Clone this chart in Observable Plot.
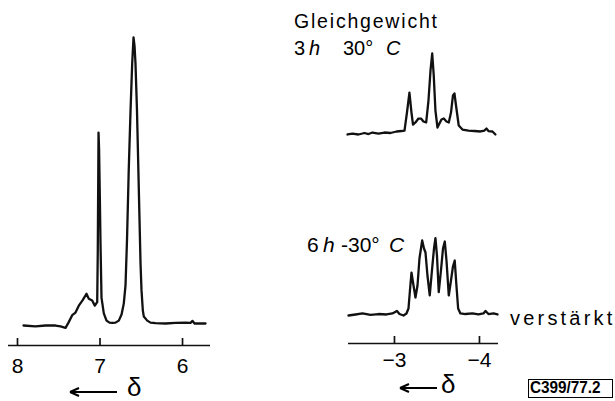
<!DOCTYPE html>
<html><head><meta charset="utf-8">
<script src="https://cdn.jsdelivr.net/npm/d3@7"></script>
<script src="https://cdn.jsdelivr.net/npm/@observablehq/plot@0.6"></script>
<style>
body{margin:0;background:#fff;}
#wrap{position:relative;width:615px;height:401px;overflow:hidden;font-family:"Liberation Sans",Arial,sans-serif;color:#000;background:#fff;}
.p{position:absolute;}
.lbl{position:absolute;white-space:pre;line-height:1;}
</style></head><body>
<div id="wrap"></div>
<script>
// ---- data (chemical shift δ in ppm, relative intensity) ----
const leftPpm = [7.927,7.782,7.661,7.539,7.479,7.418,7.382,7.337,7.297,7.257,7.212,7.164,7.136,7.095,7.063,7.034,7.027,7.018,7.011,7.002,6.994,6.982,6.954,6.921,6.885,6.848,6.812,6.772,6.739,6.712,6.691,6.673,6.652,6.630,6.610,6.594,6.582,6.570,6.552,6.537,6.521,6.509,6.497,6.481,6.469,6.428,6.388,6.327,6.206,6.085,5.964,5.903,5.879,5.855,5.782,5.721];
const leftInt = [0,-0.3,0,0,-0.3,-0.8,1.0,3.6,4.5,6.9,8.7,11.0,9.3,8.7,6.9,8.1,26,67.0,60.8,44.4,28.5,9.7,4.2,1.7,1.0,0.9,1.0,1.7,3.8,7.6,13.9,29.5,53.8,74.7,91.0,100,97.2,91.0,74.7,56.3,36.5,21.5,12.2,5.2,3.1,1.7,1.0,0.8,0.7,0.9,1.0,0.9,1.6,0.7,0.7,0.7];

const eqPpm = [-2.447,-2.506,-2.576,-2.647,-2.694,-2.741,-2.812,-2.882,-2.953,-3.024,-3.082,-3.118,-3.147,-3.176,-3.200,-3.218,-3.247,-3.282,-3.312,-3.341,-3.373,-3.400,-3.424,-3.444,-3.462,-3.482,-3.506,-3.529,-3.553,-3.580,-3.612,-3.639,-3.665,-3.688,-3.706,-3.724,-3.756,-3.800,-3.871,-3.941,-4.012,-4.059,-4.082,-4.106,-4.153,-4.188];
const eqInt = [-2.5,-1.3,-2.5,-0.6,-1.9,0,-1.3,0,-0.6,1.3,1.9,2.5,25.3,50.6,25.3,10.1,12.7,17.7,17.7,13.9,12.7,40.5,78.5,100,72.2,27.8,6.3,11.4,16.5,17.7,13.9,12.7,25.3,46.8,49.4,34.2,8.9,3.8,2.5,1.9,1.3,2.5,5.1,1.9,1.3,-2.5];

const lowPpm = [-2.459,-2.541,-2.624,-2.718,-2.812,-2.906,-2.976,-3.029,-3.059,-3.106,-3.141,-3.165,-3.182,-3.200,-3.224,-3.247,-3.271,-3.294,-3.326,-3.347,-3.365,-3.388,-3.415,-3.441,-3.465,-3.482,-3.500,-3.521,-3.547,-3.571,-3.592,-3.612,-3.639,-3.665,-3.688,-3.709,-3.729,-3.749,-3.776,-3.835,-3.918,-3.988,-4.047,-4.071,-4.106,-4.165,-4.212];
const lowInt = [-1.3,0,1.3,-0.6,0.6,0,1.3,4.5,0.6,-1.3,1.3,7.7,30.8,53.8,37.2,21.8,37.2,71.8,94.9,84.6,79.5,50,24.4,56.4,84.6,97.8,75.6,28.6,56.4,84.6,93.6,69.2,24.4,43.6,61.5,69.2,37.2,7.7,1.3,0.6,1.3,0,1.3,4.5,0.6,1.3,0];

const leftTicks = [8, 7, 6];
const rightTicks = [-3, -4];
const titleText = "Gleichgewicht";
const eqCond = ["3", "h", "30°", "C"];
const lowCond = ["6", "h", "-30°", "C"];
const gainText = "verstärkt";
const codeText = "C399/77.2";
const deltaText = "δ";

// ---- drawing ----
const wrap = document.getElementById("wrap");
function rows(ppm, inten) { return ppm.map((p, i) => ({ppm: p, i: inten[i]})); }

function spectrum(o) {
  const marks = [
    Plot.line(rows(o.ppm, o.inten), {x: "ppm", y: "i", stroke: "#111", strokeWidth: 2.3, strokeLinejoin: "round"})
  ];
  if (o.ticks) {
    const fh = o.height - o.mT - o.mB;
    marks.push(Plot.ruleY([o.yDomain[0]], {stroke: "#111", strokeWidth: 1.7}));
    marks.push(Plot.ruleX(o.ticks, {stroke: "#111", strokeWidth: 1.7, insetTop: fh - 7}));
    marks.push(Plot.axisX(o.ticks, {tickSize: 0, tickPadding: o.pad, fontSize: 21, label: null, tickFormat: d => String(d).replace("-", "\u2212")}));
  }
  const svg = Plot.plot({
    width: o.width, height: o.height,
    marginLeft: o.mL, marginRight: o.mR, marginTop: o.mT, marginBottom: o.mB,
    x: {domain: o.xDomain, axis: null, label: null},
    y: {domain: o.yDomain, axis: null, label: null},
    style: {background: "transparent", fontFamily: "Liberation Sans, Arial, sans-serif", color: "#000", overflow: "visible"},
    marks
  });
  svg.classList.add("p");
  svg.style.left = o.left + "px";
  svg.style.top = o.top + "px";
  wrap.appendChild(svg);
}

spectrum({ppm: leftPpm, inten: leftInt, left: 0, top: 0, width: 240, height: 401,
  mL: 8, mR: 30, mT: 37, mB: 56, xDomain: [8.109, 5.661], yDomain: [-6.94, 100], ticks: leftTicks, pad: 13});
spectrum({ppm: eqPpm, inten: eqInt, left: 290, top: 0, width: 325, height: 150,
  mL: 58, mR: 117, mT: 53, mB: 10, xDomain: [-2.459, -4.224], yDomain: [-10.1, 100]});
spectrum({ppm: lowPpm, inten: lowInt, left: 290, top: 150, width: 325, height: 251,
  mL: 58, mR: 117, mT: 86, mB: 58, xDomain: [-2.459, -4.224], yDomain: [-37.2, 100], ticks: rightTicks, pad: 9});

function label(text, left, top, size, extra) {
  const d = document.createElement("div");
  d.className = "lbl";
  d.textContent = text;
  d.style.left = left + "px";
  d.style.top = top + "px";
  d.style.fontSize = size + "px";
  if (extra) Object.assign(d.style, extra);
  wrap.appendChild(d);
  return d;
}
label(titleText, 294, 11.5, 19.5, {letterSpacing: "1.8px"});
// 3 h 30 °C
label(eqCond[0], 294, 38, 20);
label(eqCond[1], 309, 38, 20, {fontStyle: "italic"});
label(eqCond[2], 343, 38, 20);
label(eqCond[3], 386, 38, 20, {fontStyle: "italic"});
// 6 h -30 °C
label(lowCond[0], 307, 234, 21);
label(lowCond[1], 323, 234, 21, {fontStyle: "italic"});
label(lowCond[2], 341, 234, 21);
label(lowCond[3], 389, 234, 21, {fontStyle: "italic"});
label(gainText, 510, 308, 20, {letterSpacing: "3.2px"});
// boxed figure code
const box = document.createElement("div");
box.className = "lbl";
Object.assign(box.style, {left: "528px", top: "379px", width: "85px", height: "19px", border: "1.5px solid #000", boxSizing: "border-box", overflow: "hidden"});
const inner = document.createElement("span");
inner.textContent = codeText;
Object.assign(inner.style, {position: "absolute", left: "1px", top: "0px", fontSize: "17px", fontWeight: "bold", lineHeight: "16px", display: "inline-block", transformOrigin: "0 0", transform: "scaleX(0.9)"});
box.appendChild(inner);
wrap.appendChild(box);
label(deltaText, 127, 374, 26);
label(deltaText, 441, 371, 26);

function arrow(left, top, len) {
  const ns = "http://www.w3.org/2000/svg";
  const s = document.createElementNS(ns, "svg");
  s.setAttribute("width", len + 8); s.setAttribute("height", 14);
  s.setAttribute("class", "p");
  s.style.left = left + "px"; s.style.top = top + "px";
  const p = document.createElementNS(ns, "path");
  p.setAttribute("d", `M4 7H${len + 4}M4 7L13 3M4 7L13 11`);
  p.setAttribute("stroke", "#000"); p.setAttribute("stroke-width", "2"); p.setAttribute("fill", "none");
  s.appendChild(p);
  wrap.appendChild(s);
}
arrow(66, 385, 47);
arrow(396, 381, 37);
</script>
</body></html>
